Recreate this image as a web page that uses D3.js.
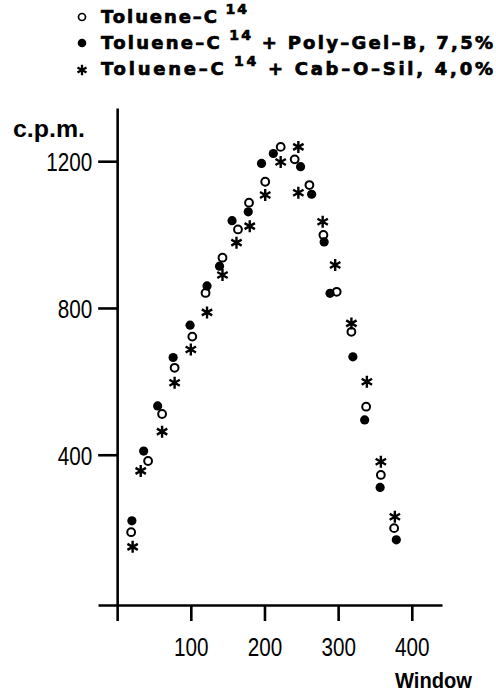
<!DOCTYPE html>
<html>
<head>
<meta charset="utf-8">
<script src="https://cdn.jsdelivr.net/npm/d3@7"></script>
<style>
  body { margin: 0; background: #fff; }
  svg { display: block; }
  .tick text { font-family: 'Liberation Sans', Arial, sans-serif; font-size: 26px; fill: #000; }
  .legend text { font-family: 'DejaVu Sans', sans-serif; font-weight: bold; font-size: 18px; fill: #000; stroke: #000; stroke-width: 0.7px; }
</style>
</head>
<body>
<svg id="chart"></svg>
<script>
const width = 496;
const height = 694;

// Toluene-C14 (open circles)
const windowsPlain = [19, 42, 61, 78, 102, 120, 143, 164, 179, 201, 222, 241, 261, 280, 298, 318, 338, 358, 376];
const cpmPlain = [189, 383, 511, 637, 722, 841, 937, 1014, 1087, 1144, 1239, 1205, 1135, 999, 844, 735, 531, 345, 200];

// + Poly-Gel-B 7,5% (filled circles)
const windowsGel = [20, 36, 55, 76, 99, 122, 139, 156, 178, 196, 212, 249, 264, 281, 289, 320, 336, 357, 379];
const cpmGel = [220, 410, 533, 665, 753, 860, 914, 1038, 1062, 1194, 1221, 1185, 1110, 980, 840, 667, 495, 311, 168];

// + Cab-O-Sil 4,0% (asterisks)
const windowsSil = [21, 32, 61, 78, 100, 122, 143, 162, 180, 201, 222, 246, 246, 279, 296, 318, 339, 358, 377];
const cpmSil = [149, 356, 463, 596, 687, 788, 890, 978, 1023, 1108, 1198, 1239, 1114, 1035, 917, 758, 599, 381, 231];

const xTicks = [0, 100, 200, 300, 400];
const yTicks = [400, 800, 1200];
const legendLabels = [' + Poly–Gel–B, 7,5%', ' + Cab–O–Sil,  4,0%'];

const svg = d3.select('#chart')
    .attr('width', width)
    .attr('height', height)
    .style('background', '#fff');

const x = d3.scaleLinear().domain([-26, 441]).range([98, 442]);
const y = d3.scaleLinear().domain([-9.5, 1345]).range([605, 108]);

// axes
const xAxis = svg.append('g')
    .attr('transform', `translate(0,${y(-9.5)})`)
    .call(d3.axisBottom(x).tickValues(xTicks).tickSize(16).tickSizeOuter(0).tickPadding(17).tickFormat(d => d === 0 ? '' : d));
const yAxis = svg.append('g')
    .attr('transform', `translate(${x(0)},0)`)
    .call(d3.axisLeft(y).tickValues(yTicks).tickSize(19).tickSizeOuter(0).tickPadding(6).tickFormat(d3.format('d')));

[xAxis, yAxis].forEach(a => {
    a.select('.domain').attr('stroke', '#000').attr('stroke-width', 2.6);
    a.selectAll('.tick line').attr('stroke', '#000').attr('stroke-width', 2.6);
    // condensed digits like the original typeface
    a.selectAll('.tick text')
        .attr('textLength', function () { return this.textContent.length * 11.5; })
        .attr('lengthAdjust', 'spacingAndGlyphs');
});
yAxis.selectAll('.tick text').attr('dy', '0.36em');

svg.append('text')
    .attr('x', 13).attr('y', 137)
    .style('font-family', "'Liberation Sans', sans-serif")
    .style('font-weight', 'bold')
    .style('font-size', '23px')
    .attr('textLength', 72)
    .attr('lengthAdjust', 'spacingAndGlyphs')
    .text('c.p.m.');

svg.append('text')
    .attr('x', 395).attr('y', 688)
    .style('font-family', "'Liberation Sans', sans-serif")
    .style('font-weight', 'bold')
    .style('font-size', '22px')
    .attr('textLength', 77)
    .attr('lengthAdjust', 'spacingAndGlyphs')
    .text('Window');

// markers
const star = (s) => {
    let p = '';
    for (let i = 0; i < 3; i++) {
        const a = Math.PI / 2 + i * Math.PI / 3;
        const dx = Math.cos(a) * s, dy = Math.sin(a) * s;
        p += `M${-dx},${-dy}L${dx},${dy}`;
    }
    return p;
};

const plot = svg.append('g');

plot.selectAll('.open')
    .data(d3.zip(windowsPlain, cpmPlain))
    .enter().append('circle')
    .attr('cx', d => x(d[0])).attr('cy', d => y(d[1]))
    .attr('r', 3.9)
    .attr('fill', '#fff').attr('stroke', '#000').attr('stroke-width', 2);

plot.selectAll('.filled')
    .data(d3.zip(windowsGel, cpmGel))
    .enter().append('circle')
    .attr('cx', d => x(d[0])).attr('cy', d => y(d[1]))
    .attr('r', 4.6)
    .attr('fill', '#000');

plot.selectAll('.star')
    .data(d3.zip(windowsSil, cpmSil))
    .enter().append('path')
    .attr('transform', d => `translate(${x(d[0])},${y(d[1])})`)
    .attr('d', star(6))
    .attr('stroke', '#000').attr('stroke-width', 2.4);

// legend
const legend = svg.append('g').attr('class', 'legend');
const rows = [23, 49, 75];
const suffix = ['', legendLabels[0], legendLabels[1]];
const lengths = [146, 392, 392];

rows.forEach((ry, i) => {
    const t = legend.append('text')
        .attr('x', 101).attr('y', ry)
        .attr('textLength', lengths[i])
        .attr('lengthAdjust', 'spacing');
    t.append('tspan').text('Toluene–C');
    t.append('tspan').attr('dy', -9).style('font-size', '14px').text(' 14');
    if (suffix[i]) t.append('tspan').attr('dy', 9).text(suffix[i]);
});

legend.append('circle').attr('cx', 82).attr('cy', rows[0] - 6).attr('r', 3.5)
    .attr('fill', '#fff').attr('stroke', '#000').attr('stroke-width', 1.7);
legend.append('circle').attr('cx', 82).attr('cy', rows[1] - 6).attr('r', 4.3).attr('fill', '#000');
legend.append('path').attr('transform', `translate(82,${rows[2] - 5})`)
    .attr('d', star(5.2)).attr('stroke', '#000').attr('stroke-width', 2.3);
</script>
</body>
</html>
